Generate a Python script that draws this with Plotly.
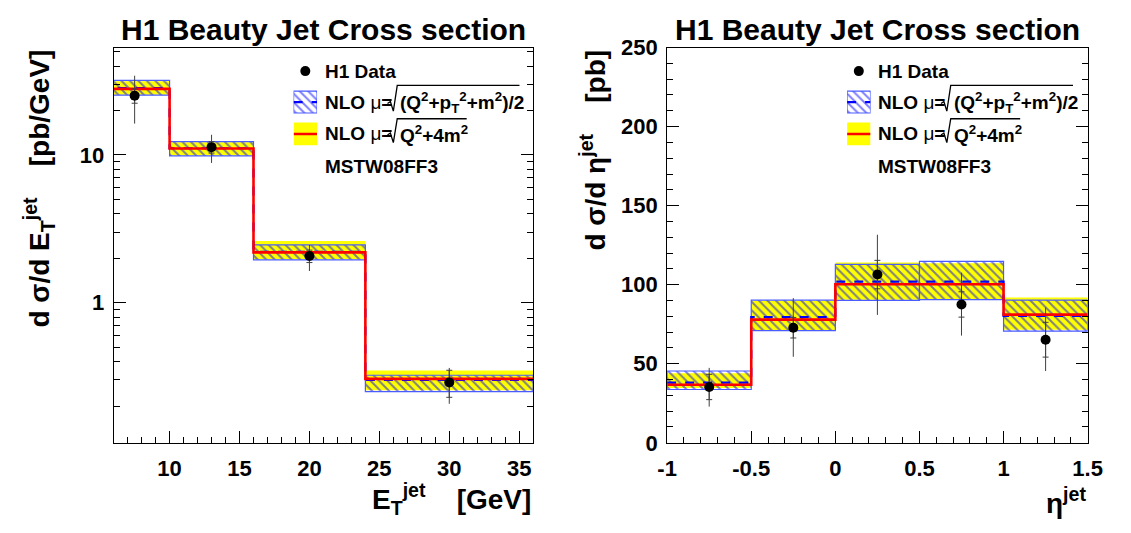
import plotly.graph_objects as go

W, H = 1131, 533

# ---------------- data: dsigma/dE_T^jet ----------------
ET_EDGES = [5, 10, 16, 24, 36]
ET_X = [7.5, 13, 20, 30]
ET_DATA = [25.2, 11.3, 2.07, 0.289]
ET_ERR_UP = [9.2, 2.4, 0.39, 0.073]
ET_ERR_DN = [8.9, 2.47, 0.43, 0.082]
ET_STAT = [2.8, 1.0, 0.2, 0.06]
ET_NLO1 = [28.3, 11.1, 2.21, 0.300]
ET_NLO1_LO = [25.4, 9.85, 1.95, 0.250]
ET_NLO1_HI = [32.0, 12.3, 2.46, 0.323]
ET_NLO2 = [28.0, 11.05, 2.19, 0.305]
ET_NLO2_LO = [25.6, 9.9, 1.97, 0.256]
ET_NLO2_HI = [31.5, 12.2, 2.62, 0.348]

# ---------------- data: dsigma/deta^jet ----------------
ETA_EDGES = [-1, -0.5, 0, 0.5, 1, 1.5]
ETA_X = [-0.75, -0.25, 0.25, 0.75, 1.25]
ETA_DATA = [35.3, 72.8, 106.4, 87.5, 65.2]
ETA_ERR_UP = [12.1, 18.7, 25.2, 20.1, 20.3]
ETA_ERR_DN = [12.4, 18.4, 25.5, 19.7, 19.8]
ETA_STAT = [8.0, 6.5, 9.0, 8.0, 11.0]
ETA_NLO1 = [38.1, 79.5, 101.9, 101.9, 80.3]
ETA_NLO1_LO = [33.7, 71.0, 90.1, 90.5, 70.6]
ETA_NLO1_HI = [45.4, 90.3, 112.8, 114.8, 90.3]
ETA_NLO2 = [36.7, 77.9, 100.3, 100.3, 81.1]
ETA_NLO2_LO = [34.7, 71.4, 90.5, 91.0, 71.5]
ETA_NLO2_HI = [44.0, 89.9, 114.0, 113.6, 91.9]

ETA_TICKVALS = [-1, -0.5, 0, 0.5, 1, 1.5]
ETA_TICKTEXT = ["-1", "-0.5", "0", "0.5", "1", "1.5"]

TITLE = "H1 Beauty Jet Cross section"
LEG_DATA = "H1 Data"
LEG_MU = "<b>NLO </b>μ<b>=</b>"
LEG_ROOT1 = "(Q<sup>2</sup>+p<sub>T</sub><sup>2</sup>+m<sup>2</sup>)/2"
LEG_ROOT2 = "Q<sup>2</sup>+4m<sup>2</sup>"
LEG_PDF = "MSTW08FF3"

FONT = "Liberation Sans, Arial, sans-serif"
BLUE = "#0000ff"
RED = "#ff0000"
YELLOW = "#ffff00"


def px(x):
    return x / W


def py(y):
    return 1 - y / H


fig = go.Figure()

HATCH = dict(shape="\\", fgcolor=BLUE, bgcolor="rgba(0,0,0,0)",
             size=6, solidity=0.33, fillmode="overlay")


def panel(xa, ya, edges, xpts, data, eup, edn, stat, n1, n1lo, n1hi, n2, n2lo, n2hi):
    centers = [(edges[i] + edges[i + 1]) / 2 for i in range(len(edges) - 1)]
    widths = [edges[i + 1] - edges[i] for i in range(len(edges) - 1)]
    fig.add_trace(go.Bar(x=centers, width=widths, base=n2lo,
                         y=[h - l for h, l in zip(n2hi, n2lo)],
                         marker=dict(color=YELLOW, line=dict(width=0)),
                         xaxis=xa, yaxis=ya, showlegend=False))
    fig.add_trace(go.Bar(x=centers, width=widths, base=n1lo,
                         y=[h - l for h, l in zip(n1hi, n1lo)],
                         marker=dict(color="rgba(0,0,0,0)",
                                     line=dict(color="#4a5cff", width=1.2),
                                     pattern=HATCH),
                         xaxis=xa, yaxis=ya, showlegend=False))
    fig.add_trace(go.Scatter(x=edges, y=list(n1) + [n1[-1]], mode="lines",
                             line=dict(color=BLUE, width=2.2, dash="dash", shape="hv"),
                             xaxis=xa, yaxis=ya, showlegend=False))
    fig.add_trace(go.Scatter(x=edges, y=list(n2) + [n2[-1]], mode="lines",
                             line=dict(color=RED, width=2.6, shape="hv"),
                             xaxis=xa, yaxis=ya, showlegend=False))
    fig.add_trace(go.Scatter(x=xpts, y=data, mode="markers",
                             marker=dict(size=1, color="rgba(0,0,0,0)"),
                             error_y=dict(type="data", array=eup, arrayminus=edn,
                                          color="#404040", thickness=1, width=0),
                             xaxis=xa, yaxis=ya, showlegend=False))
    fig.add_trace(go.Scatter(x=xpts, y=data, mode="markers",
                             marker=dict(size=1, color="rgba(0,0,0,0)"),
                             error_y=dict(type="data", array=stat,
                                          color="#404040", thickness=1, width=3),
                             xaxis=xa, yaxis=ya, showlegend=False))
    fig.add_trace(go.Scatter(x=xpts, y=data, mode="markers",
                             marker=dict(size=10, color="black"),
                             xaxis=xa, yaxis=ya, showlegend=False))


panel("x", "y", ET_EDGES, ET_X, ET_DATA, ET_ERR_UP, ET_ERR_DN, ET_STAT,
      ET_NLO1, ET_NLO1_LO, ET_NLO1_HI, ET_NLO2, ET_NLO2_LO, ET_NLO2_HI)
panel("x2", "y2", ETA_EDGES, ETA_X, ETA_DATA, ETA_ERR_UP, ETA_ERR_DN, ETA_STAT,
      ETA_NLO1, ETA_NLO1_LO, ETA_NLO1_HI, ETA_NLO2, ETA_NLO2_LO, ETA_NLO2_HI)

# ---------------- legend keys (drawn on small helper axes) ----------------
LEG_KEY = dict(marker_y=12, blue=(33, 56), yellow=(66, 90), width=24)
for xa, ya in (("x3", "y3"), ("x4", "y4")):
    k = LEG_KEY
    mid = k["width"] / 2
    fig.add_trace(go.Scatter(x=[mid], y=[k["marker_y"]], mode="markers",
                             marker=dict(size=10, color="black"),
                             xaxis=xa, yaxis=ya, showlegend=False))
    fig.add_trace(go.Bar(x=[mid], width=[k["width"]], base=[k["blue"][0]],
                         y=[k["blue"][1] - k["blue"][0]],
                         marker=dict(color="rgba(0,0,0,0)",
                                     line=dict(color="#4a5cff", width=1.2),
                                     pattern=HATCH),
                         xaxis=xa, yaxis=ya, showlegend=False))
    bm = sum(k["blue"]) / 2
    fig.add_trace(go.Scatter(x=[0, k["width"]], y=[bm, bm], mode="lines",
                             line=dict(color=BLUE, width=2.2, dash="dash"),
                             xaxis=xa, yaxis=ya, showlegend=False))
    fig.add_trace(go.Bar(x=[mid], width=[k["width"]], base=[k["yellow"][0]],
                         y=[k["yellow"][1] - k["yellow"][0]],
                         marker=dict(color=YELLOW, line=dict(width=0)),
                         xaxis=xa, yaxis=ya, showlegend=False))
    ym = sum(k["yellow"]) / 2
    fig.add_trace(go.Scatter(x=[0, k["width"]], y=[ym, ym], mode="lines",
                             line=dict(color=RED, width=2.6),
                             xaxis=xa, yaxis=ya, showlegend=False))

tickfont = dict(family=FONT, size=22, color="black", weight="bold")
common = dict(showline=True, linecolor="black", linewidth=1.2, showgrid=False,
              zeroline=False, ticks="inside", ticklen=12, tickwidth=1,
              tickcolor="black", tickfont=tickfont)

ydom = [py(452), py(37.3)]
fig.update_layout(
    width=W, height=H, margin=dict(l=0, r=0, t=0, b=0),
    paper_bgcolor="white", plot_bgcolor="white", barmode="overlay",
    xaxis=dict(domain=[px(106), px(535)], range=[6, 36], dtick=5, tick0=0,
               mirror=True, anchor="y", ticklabelstandoff=6,
               minor=dict(ticks="inside", ticklen=6, dtick=1, tickcolor="black"),
               **common),
    yaxis=dict(domain=ydom, type="log", range=[-0.948, 1.727], dtick=1,
               mirror="ticks", anchor="x", ticklabelstandoff=4,
               minor=dict(ticks="inside", ticklen=6, dtick="D1", tickcolor="black"),
               **common),
    xaxis2=dict(domain=[px(672), px(1102)], range=[-1, 1.5], tickmode="array",
                tickvals=ETA_TICKVALS, ticktext=ETA_TICKTEXT, mirror=True, anchor="y2",
                ticklabelstandoff=6,
                minor=dict(ticks="inside", ticklen=6, dtick=0.1, tick0=0, tickcolor="black"),
                **common),
    yaxis2=dict(domain=ydom, range=[0, 250], dtick=50, mirror="ticks", anchor="x2",
                ticklabelstandoff=4,
                minor=dict(ticks="inside", ticklen=6, dtick=10, tickcolor="black"),
                **common),
    xaxis3=dict(domain=[px(290), px(314)], range=[0, 24], visible=False,
                anchor="y3", fixedrange=True),
    yaxis3=dict(domain=[py(140), py(50)], range=[90, 0], visible=False,
                anchor="x3", fixedrange=True),
    xaxis4=dict(domain=[px(856), px(880)], range=[0, 24], visible=False,
                anchor="y4", fixedrange=True),
    yaxis4=dict(domain=[py(140), py(50)], range=[90, 0], visible=False,
                anchor="x4", fixedrange=True),
    showlegend=False,
)

ann = []
titlefont = dict(family=FONT, size=30, color="black", weight="bold")
axfont = dict(family=FONT, size=28, color="black", weight="bold")
legfont = dict(family=FONT, size=19, color="black", weight="bold")
legfont_n = dict(family=FONT, size=19, color="black", weight="normal")
NB = "\u00a0"


def A(text, x, y, xa="left", ya="middle", font=legfont, angle=0):
    ann.append(dict(text=text, x=px(x), y=py(y), xref="paper", yref="paper",
                    xanchor=xa, yanchor=ya, showarrow=False, font=font,
                    textangle=angle))


for cx in (320.5, 887):
    A(TITLE, cx, 18, "center", "middle", titlefont)
A("d σ/d E<sub>T</sub><sup>jet</sup>" + NB * 4 + "[pb/GeV]", 30, 37, "center", "top", axfont, -90)
A("d σ/d η<sup>jet</sup>" + NB * 4 + "[pb]", 596, 37, "center", "top", axfont, -90)
A("E<sub>T</sub><sup>jet</sup>" + NB * 4 + "[GeV]", 535, 511, "right", "middle", axfont)
A("η<sup>jet</sup>", 1102, 513, "right", "middle", axfont)

shapes = []
ROW = dict(data=62, nlo1=95, nlo2=128, pdf=162)
for dx in (0, 566):
    x0 = 320 + dx
    A(LEG_DATA, x0, ROW["data"])
    A(LEG_MU, x0, ROW["nlo1"], font=legfont_n)
    A(LEG_MU, x0, ROW["nlo2"], font=legfont_n)
    A(LEG_ROOT1, 397 + dx, ROW["nlo1"])
    A(LEG_ROOT2, 397 + dx, ROW["nlo2"])
    A(LEG_PDF, x0, ROW["pdf"])
    # radical signs
    for c, top, xend in ((ROW["nlo1"], ROW["nlo1"] - 18, 521 + dx),
                         (ROW["nlo2"], ROW["nlo2"] - 16, 467 + dx)):
        pts = [(386 + dx, c + 1), (389 + dx, c - 1), (392 + dx, c + 9),
               (396 + dx, top), (xend, top)]
        path = "M " + " L ".join(f"{px(a):.5f},{py(b):.5f}" for a, b in pts)
        shapes.append(dict(type="path", xref="paper", yref="paper", path=path,
                           line=dict(color="black", width=1.3)))

fig.update_layout(annotations=ann, shapes=shapes)

fig.write_html("out.html", config={"displayModeBar": False},
               post_script="document.body.style.margin='0px';")
